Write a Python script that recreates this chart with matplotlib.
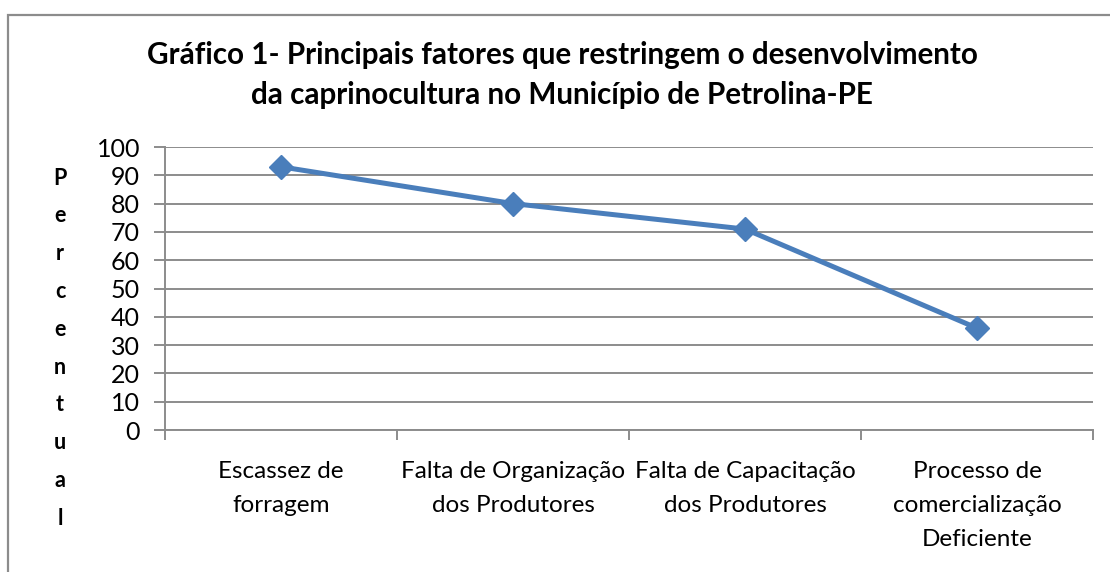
import numpy as np
import matplotlib.pyplot as plt
from matplotlib.patches import Rectangle

plt.rcParams['font.family'] = ['Lato', 'DejaVu Sans']

# data
categorias = ['Escassez de\nforragem',
              'Falta de Organização\ndos Produtores',
              'Falta de Capacitação\ndos Produtores',
              'Processo de\ncomercialização\nDeficiente']
percentual = [93, 80, 71, 36]
yticks = list(range(0, 101, 10))

titulo = ('Gráfico 1- Principais fatores que restringem o desenvolvimento\n'
          'da caprinocultura no Município de Petrolina-PE')
ylabel = 'Percentual'

W, H = 1110, 572
fig = plt.figure(figsize=(W/100, H/100), dpi=100)

# outer chart frame (Excel style), runs off right/bottom edges
fig.patches.append(Rectangle((8/W, -0.1), 1.2, 1 - 15/H + 0.1,
                             transform=fig.transFigure, fill=False,
                             edgecolor='#8c8c8c', linewidth=1.6))

ax = fig.add_axes([165/W, 1 - 430/H, (1093-165)/W, (430-147)/H])

x = np.arange(len(percentual))
ax.plot(x, percentual, color='#4a7ebb', linewidth=3.6, marker='D',
        markersize=12, markerfacecolor='#4a7ebb', markeredgecolor='#4a7ebb',
        zorder=5, clip_on=False)

ax.set_xlim(-0.5, len(percentual) - 0.5)
ax.set_ylim(0, 100)
ax.set_yticks(yticks)
ax.yaxis.grid(True, color='#8c8c8c', linewidth=1.4)
ax.set_axisbelow(True)

# boundary ticks between categories, labels centred on points
ax.set_xticks(np.arange(-0.5, len(percentual), 1.0))
ax.set_xticklabels([])
ax.set_xticks(x, minor=True)
ax.set_xticklabels(categorias, minor=True, fontsize=17.5, linespacing=1.78)
ax.tick_params(axis='x', which='minor', length=0, pad=22)
ax.tick_params(axis='x', which='major', length=7, width=1.4, color='#8c8c8c',
               direction='out')
ax.tick_params(axis='y', length=8, width=1.4, color='#8c8c8c', direction='out',
               labelsize=18, pad=10)

for side in ['top', 'right']:
    ax.spines[side].set_visible(False)
for side in ['left', 'bottom']:
    ax.spines[side].set_color('#8c8c8c')
    ax.spines[side].set_linewidth(1.4)

# stacked vertical letters for the y label
for i, letra in enumerate(ylabel):
    fig.text(60/W, 1 - (178 + 37.8*i)/H, letra, ha='center', va='center',
             fontsize=15.5, fontweight='bold')

fig.text(562/W, 1 - 75/H, titulo, ha='center', va='center', fontsize=21.3,
         fontweight='bold', linespacing=1.5)

fig.savefig('out.png', dpi=100)
